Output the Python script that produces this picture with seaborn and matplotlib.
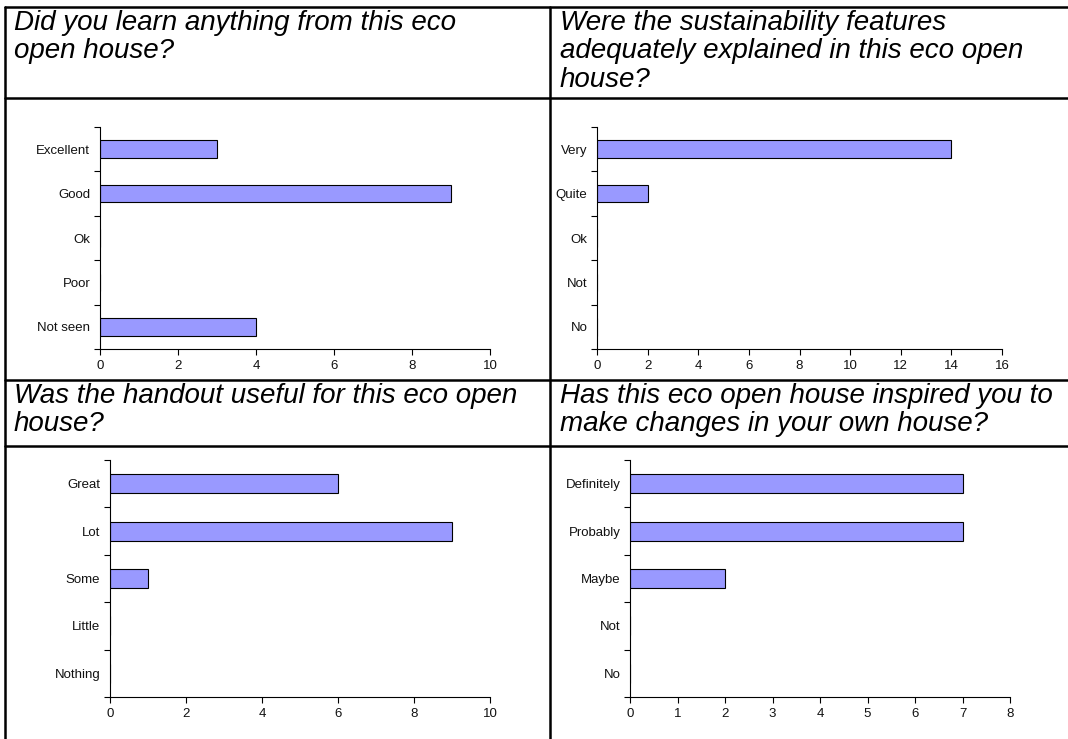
import matplotlib
matplotlib.use("Agg")
import matplotlib.pyplot as plt
from matplotlib.lines import Line2D
import seaborn as sns
import pandas as pd

# Survey answers, one question per panel
q1_title = "Did you learn anything from this eco\nopen house?"
q1_labels = ["Excellent", "Good", "Ok", "Poor", "Not seen"]
q1_counts = [3, 9, 0, 0, 4]
q1_ticks = [0, 2, 4, 6, 8, 10]

q2_title = "Were the sustainability features\nadequately explained in this eco open\nhouse?"
q2_labels = ["Very", "Quite", "Ok", "Not", "No"]
q2_counts = [14, 2, 0, 0, 0]
q2_ticks = [0, 2, 4, 6, 8, 10, 12, 14, 16]

q3_title = "Was the handout useful for this eco open\nhouse?"
q3_labels = ["Great", "Lot", "Some", "Little", "Nothing"]
q3_counts = [6, 9, 1, 0, 0]
q3_ticks = [0, 2, 4, 6, 8, 10]

q4_title = "Has this eco open house inspired you to\nmake changes in your own house?"
q4_labels = ["Definitely", "Probably", "Maybe", "Not", "No"]
q4_counts = [7, 7, 2, 0, 0]
q4_ticks = [0, 1, 2, 3, 4, 5, 6, 7, 8]

sns.set_style("ticks")
plt.rcParams["font.family"] = ["Liberation Sans", "DejaVu Sans"]

W, H = 1068, 739
fig = plt.figure(figsize=(W / 100, H / 100), dpi=100)
fig.patch.set_facecolor("white")


def px_rect(left, top, right, bottom):
    return [left / W, 1 - bottom / H, (right - left) / W, (bottom - top) / H]


def draw_panel(rect, labels, counts, ticks):
    ax = fig.add_axes(px_rect(*rect))
    df = pd.DataFrame({"answer": labels, "count": counts})
    sns.barplot(data=df, x="count", y="answer", orient="h", ax=ax,
                color="#9999FF", saturation=1, width=0.4,
                edgecolor="black", linewidth=0.8)
    ax.set_xlim(ticks[0], ticks[-1])
    ax.set_xticks(ticks)
    ax.set_ylim(len(labels) - 0.5, -0.5)
    ax.set_xlabel("")
    ax.set_ylabel("")
    # category ticks sit between the bars, labels centred on each bar
    ax.set_yticks([i - 0.5 for i in range(len(labels) + 1)], minor=False)
    ax.set_yticklabels([""] * (len(labels) + 1))
    ax.set_yticks(range(len(labels)), minor=True)
    ax.set_yticklabels(labels, minor=True)
    ax.tick_params(axis="y", which="minor", length=0, pad=7, labelsize=9.5,
                   labelcolor="#111111")
    ax.tick_params(axis="y", which="major", length=4, width=0.8, color="black")
    ax.tick_params(axis="x", length=4, width=0.8, color="black", labelsize=9.5,
                   pad=4, labelcolor="#111111")
    for s in ["top", "right"]:
        ax.spines[s].set_visible(False)
    for s in ["left", "bottom"]:
        ax.spines[s].set_color("black")
        ax.spines[s].set_linewidth(0.8)
    ax.set_facecolor("white")
    return ax


draw_panel((100, 127, 490, 349), q1_labels, q1_counts, q1_ticks)
draw_panel((597, 127, 1002, 349), q2_labels, q2_counts, q2_ticks)
draw_panel((110, 460, 490, 697), q3_labels, q3_counts, q3_ticks)
draw_panel((630, 460, 1010, 697), q4_labels, q4_counts, q4_ticks)

# Question headers
title_kw = dict(fontsize=20, style="italic", va="top", ha="left",
                linespacing=1.12, color="black")
fig.text(14 / W, 1 - 10 / H, q1_title, **title_kw)
fig.text(560 / W, 1 - 10 / H, q2_title, **title_kw)
fig.text(14 / W, 1 - 383 / H, q3_title, **title_kw)
fig.text(560 / W, 1 - 383 / H, q4_title, **title_kw)

# Table grid
def hline(y, x0=5, x1=1080):
    fig.add_artist(Line2D([x0 / W, x1 / W], [1 - y / H, 1 - y / H],
                          color="black", lw=1.8, transform=fig.transFigure))


def vline(x, y0=7, y1=745):
    fig.add_artist(Line2D([x / W, x / W], [1 - y0 / H, 1 - y1 / H],
                          color="black", lw=1.8, transform=fig.transFigure))


for y in (7, 98, 380, 446):
    hline(y)
for x in (5, 550):
    vline(x)

fig.savefig("out.png", dpi=100, facecolor="white")
